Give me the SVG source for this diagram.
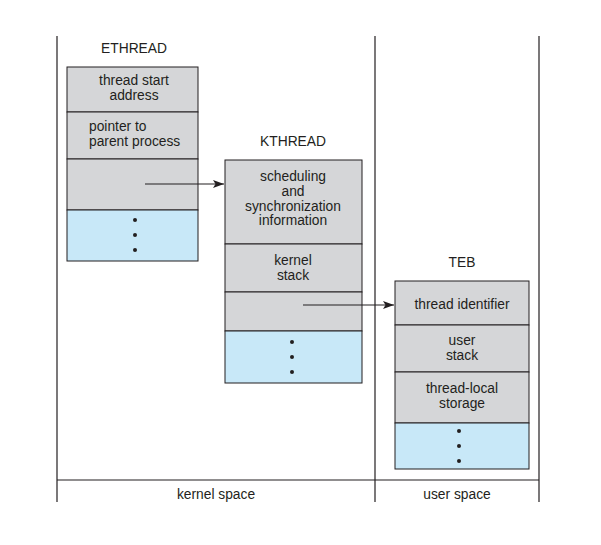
<svg xmlns="http://www.w3.org/2000/svg" width="601" height="545" viewBox="0 0 601 545">
<style>
text{font-family:"Liberation Sans",Arial,sans-serif;font-size:13.8px;fill:#231f20;text-anchor:middle}
.g{fill:#d5d6d8;stroke:#231f20;stroke-width:1}
.b{fill:#c8e8f8;stroke:#231f20;stroke-width:1}
.ln{stroke:#231f20;stroke-width:1.2;fill:none}
.dot{fill:#231f20}
</style>
<defs>
<marker id="ah" markerWidth="11" markerHeight="8" refX="11" refY="4" orient="auto" markerUnits="userSpaceOnUse">
<path d="M0,0 L11,4 L0,8 L2.5,4 z" fill="#231f20"/>
</marker>
</defs>
<rect width="601" height="545" fill="#fff"/>
<g id="frame">
<line class="ln" x1="57" y1="36" x2="57" y2="502"/>
<line class="ln" x1="375" y1="36" x2="375" y2="502"/>
<line class="ln" x1="539" y1="36" x2="539" y2="502"/>
<line class="ln" x1="57" y1="480" x2="539" y2="480"/>
<text x="216" y="499">kernel space</text>
<text x="457" y="499">user space</text>
</g>
<g id="ethread">
<text x="134" y="53">ETHREAD</text>
<rect class="g" x="67" y="67" width="131" height="45"/>
<rect class="g" x="67" y="112" width="131" height="47"/>
<rect class="g" x="67" y="159" width="131" height="51"/>
<rect class="b" x="67" y="210" width="131" height="51"/>
<text x="134" y="85">thread start</text>
<text x="134" y="100">address</text>
<text x="89" y="131" style="text-anchor:start">pointer to</text>
<text x="89" y="146" style="text-anchor:start">parent process</text>
<circle class="dot" cx="135" cy="220" r="2"/>
<circle class="dot" cx="135" cy="235" r="2"/>
<circle class="dot" cx="135" cy="250" r="2"/>
</g>
<g id="kthread">
<text x="293" y="146">KTHREAD</text>
<rect class="g" x="225" y="160" width="137" height="84"/>
<rect class="g" x="225" y="244" width="137" height="48"/>
<rect class="g" x="225" y="292" width="137" height="39"/>
<rect class="b" x="225" y="331" width="137" height="52"/>
<text x="293" y="181">scheduling</text>
<text x="293" y="196">and</text>
<text x="293" y="211">synchronization</text>
<text x="293" y="225">information</text>
<text x="293" y="265">kernel</text>
<text x="293" y="280">stack</text>
<circle class="dot" cx="292" cy="342" r="2"/>
<circle class="dot" cx="292" cy="357" r="2"/>
<circle class="dot" cx="292" cy="372" r="2"/>
</g>
<g id="teb">
<text x="462" y="267">TEB</text>
<rect class="g" x="395" y="281" width="134" height="44"/>
<rect class="g" x="395" y="325" width="134" height="47"/>
<rect class="g" x="395" y="372" width="134" height="51"/>
<rect class="b" x="395" y="423" width="134" height="46"/>
<text x="462" y="309">thread identifier</text>
<text x="462" y="345">user</text>
<text x="462" y="360">stack</text>
<text x="462" y="393">thread-local</text>
<text x="462" y="408">storage</text>
<circle class="dot" cx="459" cy="431" r="2"/>
<circle class="dot" cx="459" cy="446" r="2"/>
<circle class="dot" cx="459" cy="461" r="2"/>
</g>
<g id="connectors">
<line class="ln" x1="145" y1="184" x2="224" y2="184" marker-end="url(#ah)"/>
<line class="ln" x1="303" y1="305" x2="394" y2="305" marker-end="url(#ah)"/>
</g>
</svg>
